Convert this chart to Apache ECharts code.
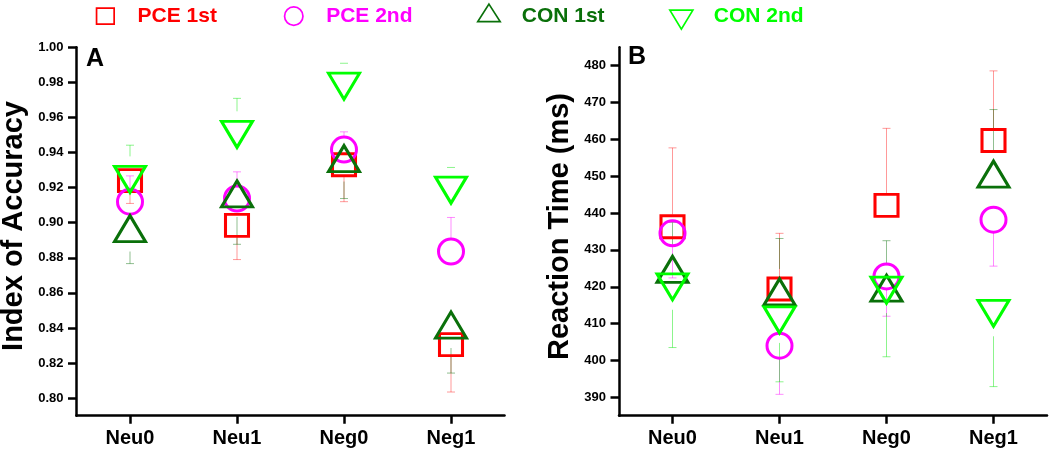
<!DOCTYPE html>
<html>
<head>
<meta charset="utf-8">
<script src="https://cdn.jsdelivr.net/npm/echarts@6/dist/echarts.min.js"></script>
<style>
html,body{margin:0;padding:0;background:#fff;}
#chart{width:1050px;height:451px;}
</style>
</head>
<body>
<div id="chart"></div>
<script>
// ---- data ----
const categories = ['Neu0', 'Neu1', 'Neg0', 'Neg1'];
const seriesNames = ['PCE 1st', 'PCE 2nd', 'CON 1st', 'CON 2nd'];

// Panel A: Index of Accuracy (means and one-sided error-bar ends)
const accPce1 = [0.924, 0.8985, 0.933, 0.8305];
const accPce1Err = [0.911, 0.879, 0.912, 0.8035];
const accPce2 = [0.912, 0.9138, 0.9417, 0.8836];
const accPce2Err = [0.9267, 0.929, 0.9518, 0.903];
const accCon1 = [0.8967, 0.9164, 0.9366, 0.8417];
const accCon1Err = [0.8767, 0.8877, 0.9138, 0.8143];
const accCon2 = [0.9247, 0.9504, 0.9778, 0.9186];
const accCon2Err = [0.9442, 0.9709, 0.9909, 0.9315];

// Panel B: Reaction Time (ms)
const rtPce1 = [436.3, 419.4, 442.1, 459.7];
const rtPce1Err = [457.7, 434.5, 463.0, 478.6];
const rtPce2 = [434.5, 404.0, 422.8, 438.2];
const rtPce2Err = [422.4, 390.8, 412.0, 425.6];
const rtCon1 = [424.7, 418.6, 419.6, 450.6];
const rtCon1Err = [437.5, 433.1, 432.5, 468.1];
const rtCon2 = [420.0, 411.0, 419.1, 412.8];
const rtCon2Err = [403.5, 394.2, 401.0, 392.9];

const accTicks = [0.80, 0.82, 0.84, 0.86, 0.88, 0.90, 0.92, 0.94, 0.96, 0.98, 1.00];
const rtTicks = [390, 400, 410, 420, 430, 440, 450, 460, 470, 480];
const axisTitles = ['Index of Accuracy', 'Reaction Time (ms)'];
const panelLetters = ['A', 'B'];

// ---- styling ----
const FONT = "'Liberation Sans', Arial, sans-serif";
const colors = ['#ff0000', '#ff00ff', '#0a700a', '#00ff00'];
const errColors = ['rgba(255,0,0,0.4)', 'rgba(255,0,255,0.45)', 'rgba(10,112,10,0.45)', 'rgba(0,230,0,0.45)'];
const INV_TRI = 'path://M0,0L20,0L10,17Z';
const symbols = ['rect', 'circle', 'triangle', INV_TRI];
const symbolSizes = [[23, 22], [25, 25], [31, 26], [31, 26]];
const gaps = [12, 13, 23, 23];
const legendIcons = [
  'path://M0,0M25,27M4,5.8L21.6,5.8L21.6,21.8L4,21.8Z',
  'path://M0,0M25,27M3.4,13.8A9.2,9.2 0 1,0 21.8,13.8A9.2,9.2 0 1,0 3.4,13.8Z',
  'path://M0,0M25,27M12.2,1.8L23.4,19.2L1,19.2Z',
  'path://M0,0M25,27M1,7.8L24,7.8L12.5,26.8Z'
];

function errRenderer(color, gap) {
  return function (params, api) {
    const x = api.value(0), m = api.value(1), e = api.value(2);
    const p0 = api.coord([x, m]);
    const p1 = api.coord([x, e]);
    const dir = p1[1] < p0[1] ? -1 : 1;
    const ys = p0[1] + dir * gap;
    const children = [
      { type: 'line', shape: { x1: p0[0] - 4, y1: p1[1], x2: p0[0] + 4, y2: p1[1] },
        style: { stroke: color, lineWidth: 1 } }
    ];
    if ((p1[1] - ys) * dir > 0) {
      children.push({ type: 'line', shape: { x1: p0[0], y1: ys, x2: p0[0], y2: p1[1] },
        style: { stroke: color, lineWidth: 1 } });
    }
    return { type: 'group', children: children };
  };
}

function errData(means, ends) {
  return means.map((m, i) => [i, m, ends[i]]);
}

const panels = [
  { means: [accPce1, accPce2, accCon1, accCon2], ends: [accPce1Err, accPce2Err, accCon1Err, accCon2Err] },
  { means: [rtPce1, rtPce2, rtCon1, rtCon2], ends: [rtPce1Err, rtPce2Err, rtCon1Err, rtCon2Err] }
];

const series = [];
panels.forEach((p, pi) => {
  for (let s = 0; s < 4; s++) {
    series.push({
      type: 'custom',
      name: seriesNames[s] + ' err',
      xAxisIndex: pi, yAxisIndex: pi,
      renderItem: errRenderer(errColors[s], gaps[s]),
      data: errData(p.means[s], p.ends[s]),
      encode: { x: 0, y: [1, 2] },
      silent: true, z: 1
    });
  }
  for (let s = 0; s < 4; s++) {
    series.push({
      type: 'scatter',
      name: seriesNames[s],
      xAxisIndex: pi, yAxisIndex: pi,
      data: p.means[s],
      symbol: symbols[s],
      symbolSize: symbolSizes[s],
      itemStyle: { color: 'transparent', borderColor: colors[s], borderWidth: 3, opacity: 1 },
      emphasis: { disabled: true },
      silent: true, z: 2
    });
  }
});

function xAxis(gi) {
  return {
    type: 'category', gridIndex: gi, data: categories,
    axisLine: { lineStyle: { color: '#000', width: 2.5 } },
    axisTick: { show: true, alignWithLabel: true, length: 8, lineStyle: { color: '#000', width: 2.5 } },
    axisLabel: { color: '#000', fontFamily: FONT, fontWeight: 'bold', fontSize: 20, margin: 13 }
  };
}

function yAxis(gi, min, max, ticks, fmt) {
  return {
    type: 'value', gridIndex: gi, min: min, max: max,
    axisLine: { show: true, lineStyle: { color: '#000', width: 2.5 } },
    axisTick: { show: true, length: 8.5, customValues: ticks, lineStyle: { color: '#000', width: 2.5 } },
    axisLabel: { color: '#000', fontFamily: FONT, fontWeight: 'bold', fontSize: 13, margin: 13,
      customValues: ticks, formatter: fmt },
    splitLine: { show: false }
  };
}

const titleFont = "bold 29px 'Liberation Sans', Arial, sans-serif";
const letterFont = "bold 25px 'Liberation Sans', Arial, sans-serif";

const chart = echarts.init(document.getElementById('chart'), null, { renderer: 'canvas' });
chart.setOption({
  animation: false,
  backgroundColor: '#fff',
  legend: {
    left: 91.7, top: 1.5, padding: 0, itemGap: 63.4,
    itemWidth: 25, itemHeight: 27,
    selectedMode: false,
    itemStyle: { borderWidth: 1.7 },
    textStyle: { fontFamily: FONT, fontWeight: 'bold', fontSize: 21, padding: [0, 0, 0, 15] },
    data: seriesNames.map((n, i) => ({ name: n, icon: legendIcons[i], textStyle: { color: colors[i] } }))
  },
  grid: [
    { left: 76.5, width: 428, top: 47.3, bottom: 35.3 },
    { left: 619, width: 428, top: 47.3, bottom: 35.3 }
  ],
  xAxis: [xAxis(0), xAxis(1)],
  yAxis: [
    yAxis(0, 0.79, 1.00, accTicks, v => v.toFixed(2)),
    yAxis(1, 385, 485, rtTicks, v => String(Math.round(v)))
  ],
  graphic: [
    { type: 'text', x: 13.5, y: 226, rotation: Math.PI / 2,
      style: { text: axisTitles[0], font: titleFont, fill: '#000', align: 'center', verticalAlign: 'middle' } },
    { type: 'text', x: 560, y: 226.5, rotation: Math.PI / 2,
      style: { text: axisTitles[1], font: titleFont, fill: '#000', align: 'center', verticalAlign: 'middle' } },
    { type: 'text', left: 86, top: 47, style: { text: panelLetters[0], font: letterFont, fill: '#000' } },
    { type: 'text', left: 628, top: 45, style: { text: panelLetters[1], font: letterFont, fill: '#000' } }
  ],
  series: series
});
</script>
</body>
</html>
